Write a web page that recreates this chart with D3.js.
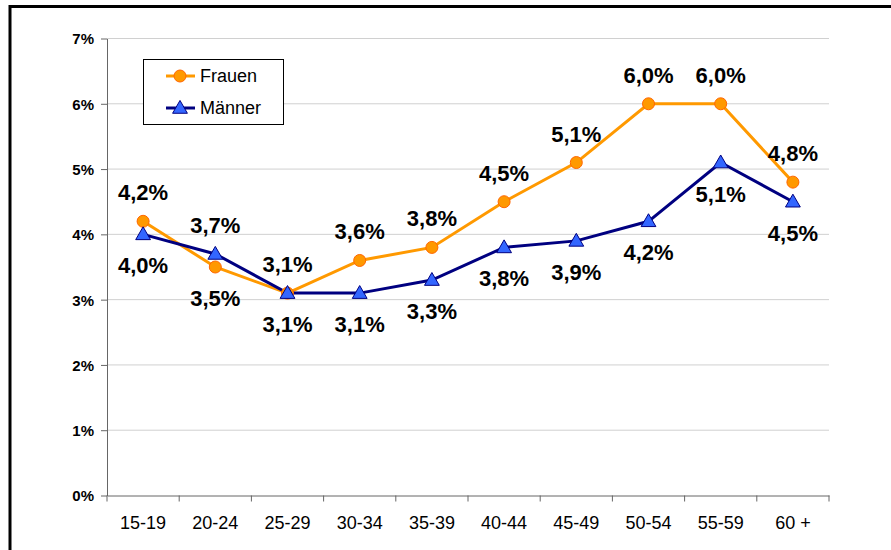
<!DOCTYPE html>
<html>
<head>
<meta charset="utf-8">
<script src="https://cdn.jsdelivr.net/npm/d3@7"></script>
<style>
  html, body { margin: 0; padding: 0; background: #fff; }
  svg { display: block; font-family: "Liberation Sans", Arial, sans-serif; }
</style>
</head>
<body>
<div id="chart"></div>
<script>
// Altersgruppen und Werte (in Prozent)
const categories = ['15-19', '20-24', '25-29', '30-34', '35-39', '40-44', '45-49', '50-54', '55-59', '60 +'];
const frauen = [4.2, 3.5, 3.1, 3.6, 3.8, 4.5, 5.1, 6.0, 6.0, 4.8];
const maenner = [4.0, 3.7, 3.1, 3.1, 3.3, 3.8, 3.9, 4.2, 5.1, 4.5];
const yTicks = [0, 1, 2, 3, 4, 5, 6, 7];

const width = 891, height = 550;
const margin = { top: 38.5, right: 62, bottom: 54.5, left: 107 };

const svg = d3.select('#chart').append('svg')
  .attr('width', width)
  .attr('height', height);

// Rahmen
svg.append('rect')
  .attr('x', 10).attr('y', 6.5)
  .attr('width', 920).attr('height', 600)
  .attr('fill', 'none')
  .attr('stroke', '#000')
  .attr('stroke-width', 3);

const x = d3.scaleBand()
  .domain(categories)
  .range([margin.left, width - margin.right]);

const y = d3.scaleLinear()
  .domain([0, 7])
  .range([height - margin.bottom, margin.top]);

// Gitterlinien
svg.append('g')
  .selectAll('line')
  .data(yTicks.filter(d => d > 0))
  .join('line')
  .attr('x1', margin.left).attr('x2', width - margin.right)
  .attr('y1', d => y(d)).attr('y2', d => y(d))
  .attr('stroke', '#d0d0d0')
  .attr('stroke-width', 1);

// y-Achse
const yAxis = svg.append('g')
  .attr('transform', `translate(${margin.left},0)`)
  .call(d3.axisLeft(y).tickValues(yTicks).tickFormat(d => d + '%').tickSize(6).tickSizeOuter(0));
yAxis.select('.domain').attr('stroke', '#666');
yAxis.selectAll('.tick line').attr('stroke', '#666');
yAxis.selectAll('text')
  .attr('font-family', '"Liberation Sans", Arial, sans-serif')
  .attr('font-size', 15)
  .attr('font-weight', 'bold')
  .attr('fill', '#000')
  .attr('x', -13)
  .attr('dy', '0.36em');

// x-Achse
const xAxis = svg.append('g')
  .attr('transform', `translate(0,${y(0)})`)
  .call(d3.axisBottom(x).tickSize(0).tickSizeOuter(0));
xAxis.select('.domain').attr('stroke', '#666');
xAxis.selectAll('text')
  .attr('font-family', '"Liberation Sans", Arial, sans-serif')
  .attr('font-size', 18)
  .attr('fill', '#000')
  .attr('y', 21)
  .attr('dy', '0.71em');

// Striche zwischen den Kategorien
const bounds = categories.map(c => x(c)).concat([x.range()[1]]);
svg.append('g')
  .selectAll('line')
  .data(bounds)
  .join('line')
  .attr('x1', d => d).attr('x2', d => d)
  .attr('y1', y(0)).attr('y2', y(0) + 6)
  .attr('stroke', '#666');

const cx = (d, i) => x(categories[i]) + x.bandwidth() / 2;
const line = d3.line()
  .x((d, i) => cx(d, i))
  .y(d => y(d));

const tri = d3.symbol().type(d3.symbolTriangle).size(95);

// Linien
svg.append('path')
  .datum(frauen)
  .attr('d', line)
  .attr('fill', 'none')
  .attr('stroke', '#ff9900')
  .attr('stroke-width', 3);

svg.append('path')
  .datum(maenner)
  .attr('d', line)
  .attr('fill', 'none')
  .attr('stroke', '#000080')
  .attr('stroke-width', 3);

// Markierungen
svg.append('g')
  .selectAll('circle')
  .data(frauen)
  .join('circle')
  .attr('cx', (d, i) => cx(d, i))
  .attr('cy', d => y(d))
  .attr('r', 6)
  .attr('fill', '#ff9900')
  .attr('stroke', '#ff6600')
  .attr('stroke-width', 1);

svg.append('g')
  .selectAll('path')
  .data(maenner)
  .join('path')
  .attr('d', tri)
  .attr('transform', (d, i) => `translate(${cx(d, i)},${y(d) + 1})`)
  .attr('fill', '#3366ff')
  .attr('stroke', '#000080')
  .attr('stroke-width', 1);

// Datenbeschriftungen: höhere Reihe oben, niedrigere unten
const fmt = v => v.toFixed(1).replace('.', ',') + '%';
function labels(values, other, isFrauen) {
  svg.append('g')
    .selectAll('text')
    .data(values)
    .join('text')
    .attr('x', (d, i) => cx(d, i))
    .attr('y', (d, i) => {
      const above = isFrauen ? d >= other[i] : d > other[i];
      return above ? y(d) - 21 : y(d) + 39;
    })
    .attr('text-anchor', 'middle')
    .attr('font-size', 22)
    .attr('font-weight', 'bold')
    .attr('fill', '#000')
    .text(fmt);
}
labels(frauen, maenner, true);
labels(maenner, frauen, false);

// Legende
const legend = svg.append('g');
legend.append('rect')
  .attr('x', 143.5).attr('y', 59.5)
  .attr('width', 140).attr('height', 65)
  .attr('fill', '#fff')
  .attr('stroke', '#000')
  .attr('stroke-width', 1);

const items = [
  { name: 'Frauen', color: '#ff9900', yy: 76 },
  { name: 'Männer', color: '#000080', yy: 108 }
];
items.forEach((it, k) => {
  legend.append('line')
    .attr('x1', 166).attr('x2', 195)
    .attr('y1', it.yy).attr('y2', it.yy)
    .attr('stroke', it.color)
    .attr('stroke-width', 3);
  if (k === 0) {
    legend.append('circle')
      .attr('cx', 180).attr('cy', it.yy).attr('r', 6)
      .attr('fill', '#ff9900').attr('stroke', '#ff6600');
  } else {
    legend.append('path')
      .attr('d', tri)
      .attr('transform', `translate(180,${it.yy + 1})`)
      .attr('fill', '#3366ff').attr('stroke', '#000080');
  }
  legend.append('text')
    .attr('x', 200).attr('y', it.yy)
    .attr('dy', '0.36em')
    .attr('font-size', 18)
    .attr('fill', '#000')
    .text(it.name);
});
</script>
</body>
</html>
